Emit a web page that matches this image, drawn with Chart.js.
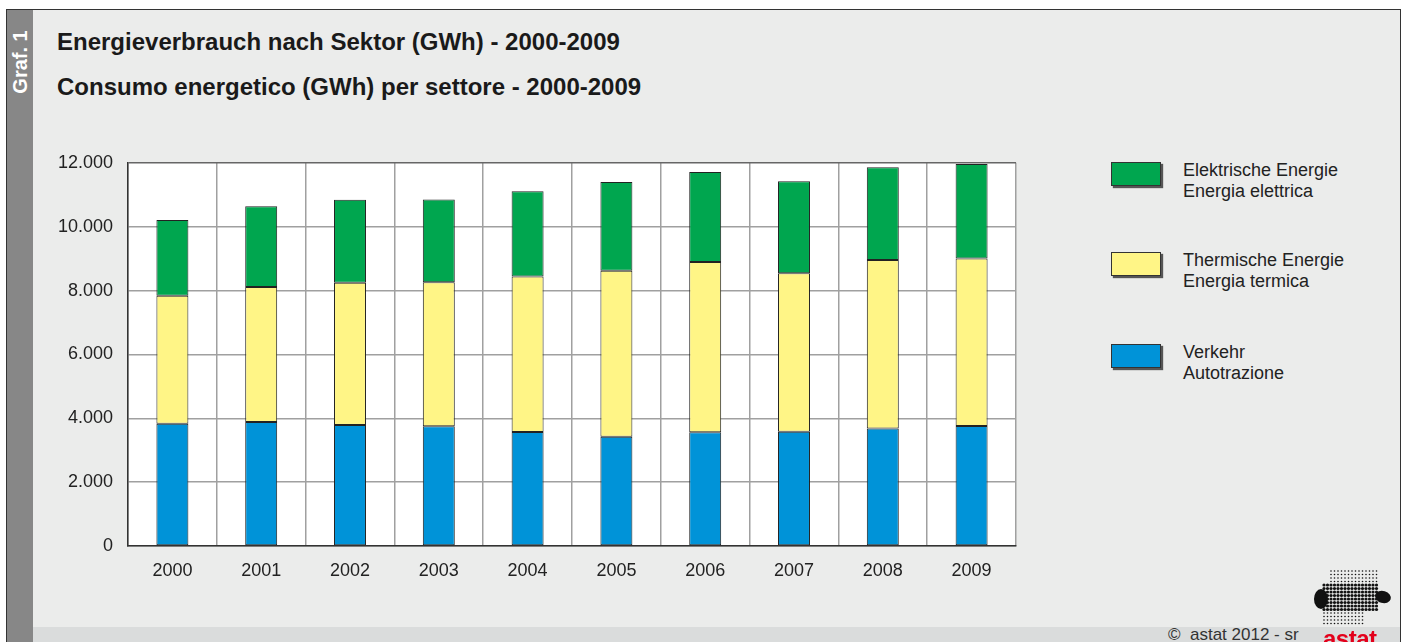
<!DOCTYPE html>
<html>
<head>
<meta charset="utf-8">
<script src="https://cdn.jsdelivr.net/npm/chart.js@4.4.1/dist/chart.umd.min.js"></script>
<style>
  body { margin: 0; background: #fff; font-family: "Liberation Sans", Arial, sans-serif; }
  #frame { position: absolute; left: 6px; top: 9px; width: 1395px; height: 633px; overflow: hidden;
           background: #ebeceb; border-top: 1px solid #333; border-right: 1px solid #333; border-left: 1px solid #333; box-sizing: border-box; }
  #strip { position: absolute; left: 0; top: 0; width: 26px; height: 100%; background: #878787; }
  #strip span { position: absolute; left: 13px; top: 52px; transform: translate(-50%, -50%) rotate(-90deg);
                color: #fff; font-weight: bold; font-size: 20px; white-space: nowrap; }
  .title { position: absolute; left: 50px; font-weight: bold; font-size: 24px; color: #1a1a1a; white-space: nowrap; }
  #wrap { position: absolute; left: 34px; top: 127px; width: 983px; height: 454px; }
  #legend { position: absolute; left: 1104px; top: 140px; }
  .item { position: absolute; left: 0; width: 260px; }
  .box { position: absolute; left: 0; top: 2px; width: 48px; height: 22px; border: 1px solid #333;
         box-shadow: 2px 2px 1px #555; }
  .lbl { position: absolute; left: 72px; top: 0; font-size: 18px; line-height: 21px; color: #222; white-space: nowrap; }
  #footer { position: absolute; left: 26px; right: 0; bottom: 0; height: 15px; background: #dadcdc; }
  #copy { position: absolute; left: 1161px; top: 615px; font-size: 17px; color: #333; white-space: nowrap; }
  #astat { position: absolute; left: 1316px; top: 615px; font-size: 24px; font-weight: bold; color: #e3001b; letter-spacing: -0.5px; }
  #logo { position: absolute; left: 1300px; top: 556px; }
</style>
</head>
<body>
<div id="frame">
  <div id="strip"><span>Graf. 1</span></div>
  <div class="title" style="top:18px">Energieverbrauch nach Sektor (GWh) - 2000-2009</div>
  <div class="title" style="top:63px">Consumo energetico (GWh) per settore - 2000-2009</div>
  <div id="wrap"><canvas id="graph"></canvas></div>
  <div id="legend"></div>
  <div id="footer"></div>
  <div id="copy">©&nbsp; astat 2012 - sr</div>
  <canvas id="logo" width="95" height="64"></canvas>
  <div id="astat">astat</div>
</div>
<script>
const years = ["2000", "2001", "2002", "2003", "2004", "2005", "2006", "2007", "2008", "2009"];
const verkehr = [3830, 3880, 3790, 3750, 3570, 3420, 3560, 3580, 3680, 3760];
const thermisch = [4010, 4230, 4450, 4510, 4870, 5200, 5330, 4960, 5280, 5240];
const elektrisch = [2370, 2530, 2600, 2590, 2670, 2780, 2820, 2880, 2900, 2960];
const yTicks = [0, 2000, 4000, 6000, 8000, 10000, 12000];

const labels = [
  ["Verkehr", "Autotrazione"],
  ["Thermische Energie", "Energia termica"],
  ["Elektrische Energie", "Energia elettrica"]
];
const colors = ["#0093d8", "#fff586", "#00a64f"];

function fmt(v) {
  return String(v).replace(/\B(?=(\d{3})+(?!\d))/g, ".");
}

const whiteArea = {
  id: "whiteArea",
  beforeDraw(chart) {
    const a = chart.chartArea;
    chart.ctx.save();
    chart.ctx.fillStyle = "#fff";
    chart.ctx.fillRect(a.left, a.top, a.right - a.left, a.bottom - a.top);
    chart.ctx.restore();
  }
};

const sets = [verkehr, thermisch, elektrisch].map((d, i) => ({
  label: labels[i].join(" / "),
  data: d,
  backgroundColor: colors[i],
  borderColor: "#222",
  borderWidth: 1,
  borderSkipped: false,
  barPercentage: 0.36,
  categoryPercentage: 1
}));

new Chart(document.getElementById("graph"), {
  type: "bar",
  data: { labels: years, datasets: sets },
  plugins: [whiteArea],
  options: {
    responsive: true,
    maintainAspectRatio: false,
    animation: false,
    layout: { padding: { top: 1, right: 8 } },
    plugins: { legend: { display: false }, tooltip: { enabled: false } },
    scales: {
      x: {
        stacked: true,
        grid: { color: "#a0a0a0", lineWidth: 1.5, drawTicks: false, offset: true },
        border: { color: "#333", width: 1.5 },
        ticks: { color: "#222", font: { family: "Liberation Sans", size: 18 }, padding: 14 },
        afterFit(s) { s.height = 45; }
      },
      y: {
        stacked: true,
        min: 0,
        max: 12000,
        afterBuildTicks(s) { s.ticks = yTicks.map(v => ({ value: v })); },
        grid: { color: (c) => c.tick && c.tick.value === 12000 ? "#666" : "#a0a0a0", lineWidth: 1.5, drawTicks: false },
        border: { color: "#333", width: 1.5 },
        ticks: { color: "#222", font: { family: "Liberation Sans", size: 18 }, padding: 15, callback: v => fmt(v) },
        afterFit(s) { s.width = 87; }
      }
    }
  }
});

// legend
const leg = document.getElementById("legend");
const tops = [192, 100, 10];
labels.forEach((l, i) => {
  const it = document.createElement("div");
  it.className = "item";
  it.style.top = tops[i] + "px";
  it.innerHTML = '<div class="box" style="background:' + colors[i] + '"></div><div class="lbl">' + l[0] + "<br>" + l[1] + "</div>";
  leg.appendChild(it);
});

// little dotted logo (decoration only)
const lg = document.getElementById("logo").getContext("2d");
lg.fillStyle = "#111";
lg.beginPath();
lg.ellipse(14, 33, 7, 10, 0, 0, Math.PI * 2);
lg.fill();
lg.beginPath();
lg.ellipse(76, 31, 8, 6, 0.3, 0, Math.PI * 2);
lg.fill();
for (let r = 0; r < 16; r++) {
  for (let c = 0; c < 16; c++) {
    const x = 17 + c * 3.5, y = 5 + r * 3.5;
    let rad = 0.8;
    if (r >= 4 && r <= 11) rad = 1.6;
    if (r >= 12 && c > 11) continue;
    if (r < 4 && c < 2) continue;
    lg.beginPath();
    lg.arc(x, y, rad, 0, Math.PI * 2);
    lg.fill();
  }
}
</script>
</body>
</html>
